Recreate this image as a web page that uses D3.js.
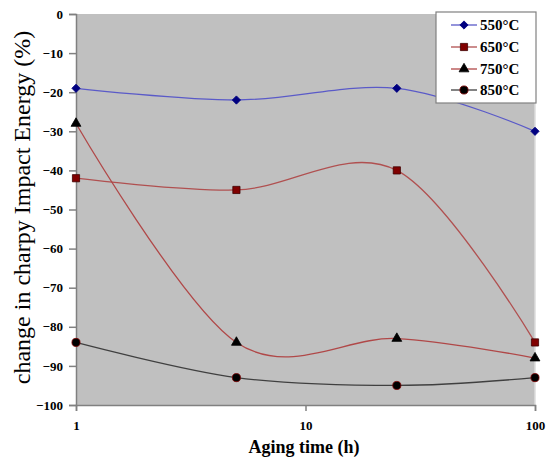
<!DOCTYPE html>
<meta charset="utf-8">
<head>
  <script src="https://d3js.org/d3.v7.min.js"></script>
  <style>
    body { margin: 0; background: #fff; }
    .tick text { font-family: "Liberation Serif", "Times New Roman", serif; font-weight: bold; font-size: 13px; fill: #000; }
  </style>
</head>
<body>
<div id="chart"></div>
<script>
  // aging time in hours
  var hours = [1, 5, 25, 100];
  var seriesNames = ["550°C", "650°C", "750°C", "850°C"];
  var s550 = [-19, -22, -19, -30];
  var s650 = [-42, -45, -40, -84];
  var s750 = [-28, -84, -83, -88];
  var s850 = [-84, -93, -95, -93];
  var yTicks = [0, -10, -20, -30, -40, -50, -60, -70, -80, -90, -100];
  var xTicks = [1, 10, 100];

  var W = 547, H = 459;
  var margin = { top: 14, right: 12, bottom: 54, left: 76 };
  var width = W - margin.left - margin.right;
  var height = H - margin.top - margin.bottom;

  var svg = d3.select("#chart").append("svg")
    .attr("width", W).attr("height", H);

  var g = svg.append("g")
    .attr("transform", "translate(" + margin.left + "," + margin.top + ")");

  var x = d3.scaleLog().domain([1, 100]).range([0, width]);
  var y = d3.scaleLinear().domain([-100, 0]).range([height, 0]);

  // plot background
  g.append("rect")
    .attr("width", width).attr("height", height)
    .attr("fill", "#c0c0c0");
  g.append("line")
    .attr("x1", width).attr("x2", width).attr("y1", 0).attr("y2", height)
    .attr("stroke", "#dcdcdc").attr("stroke-width", 1.5);

  // axes
  var yAxis = g.append("g")
    .call(d3.axisLeft(y).tickValues(yTicks).tickSize(7).tickPadding(6).tickFormat(d3.format("d")));
  yAxis.selectAll("path, line").attr("stroke", "#808080").attr("stroke-width", 1.5);

  var xAxis = g.append("g")
    .attr("transform", "translate(0," + height + ")")
    .call(d3.axisBottom(x).tickValues(xTicks).tickSize(6).tickPadding(10).tickFormat(d3.format("d")));
  xAxis.selectAll("path, line").attr("stroke", "#808080").attr("stroke-width", 1.5);

  // axis titles
  svg.append("text")
    .attr("transform", "translate(30," + (margin.top + height / 2 - 2) + ") rotate(-90)")
    .attr("text-anchor", "middle")
    .style("font-family", "Liberation Serif, serif")
    .style("font-size", "24px")
    .text("change in charpy Impact Energy (%)");

  svg.append("text")
    .attr("x", 304)
    .attr("y", 453)
    .attr("text-anchor", "middle")
    .style("font-family", "Liberation Serif, serif")
    .style("font-weight", "bold")
    .style("font-size", "18px")
    .text("Aging time (h)");

  var series = [
    { name: seriesNames[0], values: s550, line: "#5a5ac8", fill: "#000080", stroke: "#000080", shape: d3.symbolSquare, size: 34, rot: 45 },
    { name: seriesNames[1], values: s650, line: "#b05050", fill: "#800000", stroke: "#400000", shape: d3.symbolSquare, size: 52, rot: 0 },
    { name: seriesNames[2], values: s750, line: "#b04848", fill: "#000000", stroke: "#000000", shape: d3.symbolTriangle, size: 42, rot: 0 },
    { name: seriesNames[3], values: s850, line: "#404040", fill: "#000000", stroke: "#800000", shape: d3.symbolCircle, size: 52, rot: 0 }
  ];

  var line = d3.line()
    .x(function (d, i) { return x(hours[i]); })
    .y(function (d) { return y(d); })
    .curve(d3.curveCardinal.tension(0));

  series.forEach(function (s) {
    g.append("path")
      .datum(s.values)
      .attr("fill", "none")
      .attr("stroke", s.line)
      .attr("stroke-width", 1.3)
      .attr("d", line);
  });

  series.forEach(function (s) {
    g.selectAll(null)
      .data(s.values)
      .enter().append("path")
      .attr("transform", function (d, i) { return "translate(" + x(hours[i]) + "," + y(d) + ") rotate(" + s.rot + ")"; })
      .attr("d", d3.symbol().type(s.shape).size(s.size))
      .attr("fill", s.fill)
      .attr("stroke", s.stroke)
      .attr("stroke-width", 0.8);
  });

  // legend
  var legend = svg.append("g").attr("transform", "translate(436,12)");
  legend.append("rect")
    .attr("width", 100).attr("height", 91)
    .attr("fill", "#fff")
    .attr("stroke", "#808080")
    .attr("stroke-width", 1.2);

  series.forEach(function (s, i) {
    var row = legend.append("g").attr("transform", "translate(0," + [13, 35, 57, 78][i] + ")");
    row.append("line")
      .attr("x1", 15).attr("x2", 41)
      .attr("stroke", s.line).attr("stroke-width", 1.3);
    row.append("path")
      .attr("transform", "translate(28,0) rotate(" + s.rot + ")")
      .attr("d", d3.symbol().type(s.shape).size(s.size))
      .attr("fill", s.fill).attr("stroke", s.stroke).attr("stroke-width", 0.8);
    row.append("text")
      .attr("x", 44).attr("y", 5)
      .style("font-family", "Liberation Serif, serif")
      .style("font-weight", "bold")
      .style("font-size", "15px")
      .text(s.name);
  });
</script>
</body>
